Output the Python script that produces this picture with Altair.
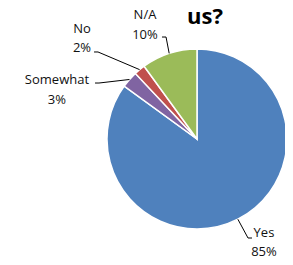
import altair as alt
import pandas as pd
import numpy as np

# ---- data ----
categories = ["Yes", "Somewhat", "No", "N/A"]
percent = [85, 3, 2, 10]
colors = ["#4F81BD", "#8064A2", "#C0504D", "#9BBB59"]
title_text = "us?"

# ---- layout (pie radius = 1 unit) ----
R_PX = 90
W, H = 277, 257
CX, CY = 189, 131
LINE_H = 19.5
X_DOM = [-CX / R_PX, (W - CX) / R_PX]
Y_DOM = [-(H - CY) / R_PX, CY / R_PX]
# label centre, elbow and tail positions (pie units, relative to pie centre)
label_pos = {
    "Yes": (0.744, -1.15),
    "N/A": (-0.578, 1.267),
    "No": (-1.278, 1.117),
    "Somewhat": (-1.556, 0.544),
}
elbow_pos = {
    "Yes": ((0.567, -1.10), (0.611, -1.10)),
    "N/A": ((-0.344, 1.133), (-0.389, 1.133)),
    "No": ((-1.10, 0.967), (-1.144, 0.967)),
    "Somewhat": ((-1.089, 0.622), (-1.133, 0.622)),
}

df = pd.DataFrame({"category": categories, "percent": percent, "idx": range(len(categories))})
total = sum(percent)
cum = np.cumsum(percent)
mid = (cum - np.array(percent) / 2) / total * 2 * np.pi
df["label"] = [f"{c}\n{p}%" for c, p in zip(categories, percent)]
df["lx"] = [label_pos[c][0] for c in categories]
df["ly"] = [label_pos[c][1] for c in categories]

rows = []
for c, a in zip(categories, mid):
    (ex, ey), (tx, ty) = elbow_pos[c]
    rows.append({"category": c, "seq": 0, "x": np.sin(a), "y": np.cos(a)})
    rows.append({"category": c, "seq": 1, "x": ex, "y": ey})
    rows.append({"category": c, "seq": 2, "x": tx, "y": ty})
lines = pd.DataFrame(rows)

xs = alt.Scale(domain=X_DOM, nice=False, zero=False)
ys = alt.Scale(domain=Y_DOM, nice=False, zero=False)

pie = alt.Chart(df).mark_arc(outerRadius=R_PX, stroke="white", strokeWidth=1.5).encode(
    x=alt.X(datum=0, scale=xs, axis=None),
    y=alt.Y(datum=0, scale=ys, axis=None),
    theta=alt.Theta("percent:Q", stack=True),
    order=alt.Order("idx:Q"),
    color=alt.Color("category:N", scale=alt.Scale(domain=categories, range=colors), legend=None),
)

leaders = alt.Chart(lines).mark_line(color="#000000", strokeWidth=1).encode(
    x=alt.X("x:Q", scale=xs, axis=None),
    y=alt.Y("y:Q", scale=ys, axis=None),
    detail="category:N",
    order="seq:Q",
)

labels = alt.Chart(df).mark_text(
    font="Open Sans", fontSize=13, lineBreak="\n", lineHeight=LINE_H, dy=-LINE_H / 2,
    align="center", baseline="middle", color="#111111"
).encode(
    x=alt.X("lx:Q", scale=xs, axis=None),
    y=alt.Y("ly:Q", scale=ys, axis=None),
    text="label:N",
)

title = alt.Chart(pd.DataFrame({"t": [title_text]})).mark_text(
    font="Open Sans", fontSize=22, fontWeight="bold", align="center", baseline="alphabetic", color="#000000"
).encode(text="t:N", x=alt.value(197), y=alt.value(16))

chart = alt.layer(pie, leaders, labels, title).properties(
    width=W, height=H, padding=0, autosize=alt.AutoSizeParams(type="none")
).configure_view(stroke=None)

chart.save("out.html", embed_options={"renderer": "svg", "actions": False})
